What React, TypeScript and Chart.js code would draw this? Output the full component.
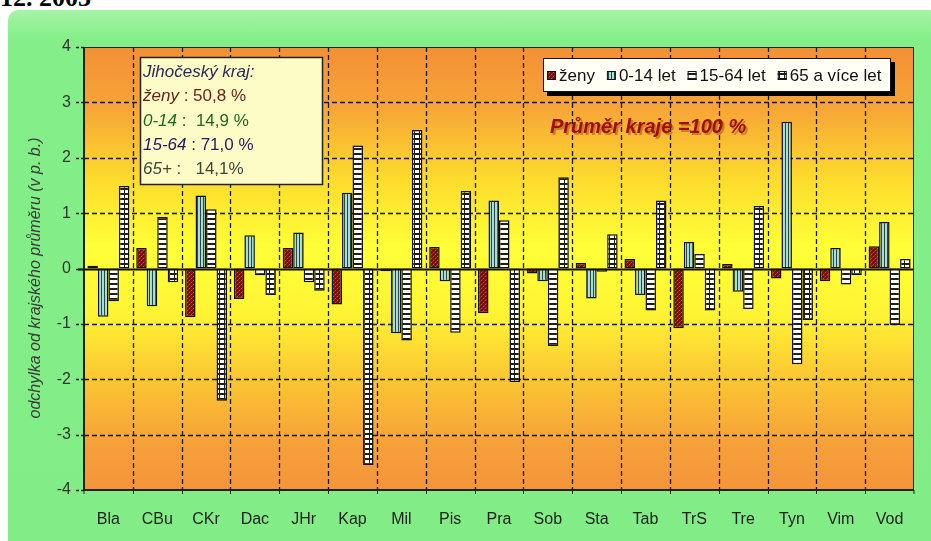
import React, { useEffect, useRef } from "react";
import { Chart, registerables } from "chart.js";
Chart.register(...registerables);

const categories = ["Bla", "CBu", "CKr", "Dac", "JHr", "Kap", "Mil", "Pis", "Pra", "Sob", "Sta", "Tab", "TrS", "Tre", "Tyn", "Vim", "Vod"];
const seriesNames = ["ženy", "0-14 let", "15-64 let", "65 a více let"];
const zeny = [0.05, 0.37, -0.88, -0.55, 0.37, -0.65, -0.05, 0.39, -0.81, -0.09, 0.1, 0.17, -1.08, 0.08, -0.18, -0.23, 0.4];
const age0to14 = [-0.87, -0.68, 1.32, 0.6, 0.65, 1.37, -1.17, -0.23, 1.23, -0.23, -0.54, -0.48, 0.48, -0.42, 2.65, 0.37, 0.84];
const age15to64 = [-0.59, 0.93, 1.07, -0.12, -0.25, 2.22, -1.3, -1.16, 0.87, -1.4, -0.06, -0.76, 0.26, -0.73, -1.73, -0.29, -1.02];
const age65plus = [1.49, -0.25, -2.39, -0.48, -0.4, -3.55, 2.5, 1.4, -2.05, 1.65, 0.62, 1.23, -0.76, 1.13, -0.93, -0.12, 0.17];
const yMin = -4;
const yMax = 4;
const yStep = 1;
const yTitle = "odchylka od krajského průměru (v p. b.)";
const infoTitle = "Jihočeský kraj:";
const infoLabels = ["ženy", "0-14", "15-64", "65+"];
const infoSeps = [" : ", " :  ", " : ", " :   "];
const infoValues = ["50,8 %", "14,9 %", "71,0 %", "14,1%"];
const noteText = "Průměr kraje =100 %";
const headingText = "12. 2003";

const FONT = "Arial, 'Liberation Sans', sans-serif";

function mk(w: number, h: number, draw: (c: CanvasRenderingContext2D) => void) {
  const c = document.createElement("canvas");
  c.width = w;
  c.height = h;
  const x = c.getContext("2d")!;
  draw(x);
  return x.createPattern(c, "repeat")!;
}

function makePatterns() {
  const pZeny = mk(4, 4, (c) => {
    c.fillStyle = "#7a1010";
    c.fillRect(0, 0, 4, 4);
    c.fillStyle = "#c85050";
    c.fillRect(1, 0, 1, 1);
    c.fillRect(3, 2, 1, 1);
    c.fillStyle = "#9e2424";
    c.fillRect(0, 1, 1, 1);
    c.fillRect(2, 3, 1, 1);
  });
  const pVert = mk(3, 1, (c) => {
    c.fillStyle = "#a8dcd6";
    c.fillRect(0, 0, 3, 1);
    c.fillStyle = "#2a4646";
    c.fillRect(2, 0, 1, 1);
  });
  const pHoriz = mk(1, 5, (c) => {
    c.fillStyle = "#ffffff";
    c.fillRect(0, 0, 1, 5);
    c.fillStyle = "#1e1e1e";
    c.fillRect(0, 3, 1, 2);
  });
  const pGrid = mk(5, 5, (c) => {
    c.fillStyle = "#ffffff";
    c.fillRect(0, 0, 5, 5);
    c.fillStyle = "#1e1e1e";
    c.fillRect(4, 0, 1, 5);
    c.fillRect(0, 3, 5, 2);
  });
  return [pZeny, pVert, pHoriz, pGrid];
}

const decor = {
  id: "decor",
  beforeDatasetsDraw(chart: any) {
    const { ctx, chartArea: a, scales } = chart;
    const x = scales.x;
    const y = scales.y;
    ctx.save();
    const g = ctx.createLinearGradient(0, a.top, 0, a.bottom);
    g.addColorStop(0, "#f38f36");
    g.addColorStop(0.14, "#f7a636");
    g.addColorStop(0.3, "#fddc2c");
    g.addColorStop(0.45, "#ffff38");
    g.addColorStop(0.6, "#fff434");
    g.addColorStop(0.75, "#fbc632");
    g.addColorStop(0.9, "#f6a03a");
    g.addColorStop(1, "#f4943a");
    ctx.fillStyle = g;
    ctx.fillRect(a.left, a.top, a.right - a.left, a.bottom - a.top);

    ctx.strokeStyle = "#1a1a1a";
    ctx.lineWidth = 1.3;
    ctx.setLineDash([5, 3]);
    for (let v = yMin + yStep; v < yMax; v += yStep) {
      if (v === 0) continue;
      const py = Math.round(y.getPixelForValue(v)) + 0.5;
      ctx.beginPath();
      ctx.moveTo(a.left, py);
      ctx.lineTo(a.right, py);
      ctx.stroke();
    }
    for (let i = 0; i < categories.length - 1; i++) {
      const px = Math.round((x.getPixelForValue(i) + x.getPixelForValue(i + 1)) / 2) + 0.5;
      ctx.beginPath();
      ctx.moveTo(px, a.top);
      ctx.lineTo(px, a.bottom);
      ctx.stroke();
    }
    ctx.setLineDash([]);
    ctx.restore();
  },
  afterDatasetsDraw(chart: any) {
    const { ctx, chartArea: a, scales, data } = chart;
    const x = scales.x;
    const y = scales.y;
    ctx.save();
    // zero line
    const y0 = Math.round(y.getPixelForValue(0)) + 0.5;
    ctx.strokeStyle = "#111";
    ctx.lineWidth = 2;
    ctx.beginPath();
    ctx.moveTo(a.left - 6, y0);
    ctx.lineTo(a.right, y0);
    ctx.stroke();
    // frame
    ctx.lineWidth = 1;
    ctx.strokeStyle = "#222";
    ctx.strokeRect(a.left + 0.5, a.top + 0.5, a.right - a.left - 1, a.bottom - a.top - 1);
    ctx.lineWidth = 2;
    ctx.beginPath();
    ctx.moveTo(a.left, a.top);
    ctx.lineTo(a.left, a.bottom);
    ctx.lineTo(a.right, a.bottom);
    ctx.stroke();
    // tick marks
    ctx.lineWidth = 1.3;
    ctx.setLineDash([3, 2]);
    for (let v = yMin; v <= yMax; v += yStep) {
      const py = Math.round(y.getPixelForValue(v)) + 0.5;
      ctx.beginPath();
      ctx.moveTo(a.left - 8, py);
      ctx.lineTo(a.left, py);
      ctx.stroke();
    }
    ctx.setLineDash([]);
    ctx.lineWidth = 1;
    for (let i = 0; i <= categories.length; i++) {
      let px;
      if (i === 0) px = a.left;
      else if (i === categories.length) px = a.right;
      else px = Math.round((x.getPixelForValue(i - 1) + x.getPixelForValue(i)) / 2) + 0.5;
      ctx.beginPath();
      ctx.moveTo(px, a.bottom);
      ctx.lineTo(px, a.bottom + 4);
      ctx.stroke();
    }
    // y title
    ctx.save();
    ctx.translate(36, 278);
    ctx.rotate(-Math.PI / 2);
    ctx.font = `italic 16px ${FONT}`;
    ctx.fillStyle = "#3c3c3c";
    ctx.textAlign = "center";
    ctx.textBaseline = "middle";
    ctx.fillText(yTitle, 0, 0);
    ctx.restore();

    // info box
    ctx.fillStyle = "#fdfcc6";
    ctx.fillRect(140, 57, 182, 127);
    ctx.strokeStyle = "#222";
    ctx.lineWidth = 1.5;
    ctx.strokeRect(140.5, 57.5, 182, 127);
    ctx.textBaseline = "alphabetic";
    ctx.textAlign = "left";
    ctx.font = `italic 17px ${FONT}`;
    ctx.fillStyle = "#2a2a5c";
    ctx.fillText(infoTitle, 143, 77);
    const infoColors = ["#6a1e1e", "#1c6a1c", "#1c1c6a", "#3c463c"];
    const baselines = [101, 126, 150, 174];
    infoLabels.forEach((lab, i) => {
      ctx.fillStyle = infoColors[i];
      ctx.font = `italic 17px ${FONT}`;
      ctx.fillText(lab, 143, baselines[i]);
      const w = ctx.measureText(lab).width;
      ctx.font = `17px ${FONT}`;
      ctx.fillText(infoSeps[i] + infoValues[i], 143 + w, baselines[i]);
    });

    // legend
    ctx.fillStyle = "#000";
    ctx.fillRect(547, 62, 348, 34);
    ctx.fillStyle = "#fffff6";
    ctx.fillRect(543, 58, 348, 34);
    ctx.strokeStyle = "#111";
    ctx.lineWidth = 1;
    ctx.strokeRect(543.5, 58.5, 347, 33);
    ctx.font = `17px ${FONT}`;
    ctx.textBaseline = "middle";
    let lx = 547;
    data.datasets.forEach((ds: any) => {
      ctx.fillStyle = ds.backgroundColor;
      ctx.fillRect(lx, 71, 9, 9);
      ctx.strokeStyle = "#111";
      ctx.strokeRect(lx + 0.5, 71.5, 8, 8);
      lx += 12;
      ctx.fillStyle = "#111";
      ctx.fillText(ds.label, lx, 76);
      lx += ctx.measureText(ds.label).width + 12;
    });

    // note
    ctx.font = `bold italic 20px ${FONT}`;
    ctx.textBaseline = "alphabetic";
    ctx.fillStyle = "rgba(120,20,0,0.35)";
    ctx.fillText(noteText, 552, 135);
    ctx.fillStyle = "#a00f0f";
    ctx.fillText(noteText, 550, 133);
    ctx.restore();
  },
};

export default function App() {
  const ref = useRef<HTMLCanvasElement>(null);
  useEffect(() => {
    const canvas = ref.current!;
    const patterns = makePatterns();
    const seriesValues = [zeny, age0to14, age15to64, age65plus];
    const chart = new Chart(canvas, {
      type: "bar",
      data: {
        labels: categories,
        datasets: seriesNames.map((name, i) => ({
          label: name,
          data: seriesValues[i],
          backgroundColor: patterns[i] as any,
          borderColor: "#111",
          borderWidth: 1.5,
          borderSkipped: false,
          categoryPercentage: 0.86,
          barPercentage: 1,
        })),
      },
      options: {
        responsive: false,
        animation: false,
        layout: { padding: { top: 47, right: 17, bottom: 0, left: 0 } },
        plugins: { legend: { display: false }, tooltip: { enabled: false } },
        scales: {
          x: {
            grid: { display: false },
            border: { display: false },
            ticks: { color: "#222", font: { family: FONT, size: 16 }, padding: 12, autoSkip: false, maxRotation: 0 },
            afterFit: (s: any) => {
              s.height = 51;
            },
          },
          y: {
            min: yMin,
            max: yMax,
            grid: { display: false },
            border: { display: false },
            ticks: { stepSize: yStep, color: "#333", font: { family: FONT, size: 16 }, padding: 5 },
            afterFit: (s: any) => {
              s.width = 84;
            },
          },
        },
      },
      plugins: [decor],
    });
    return () => chart.destroy();
  }, []);

  return (
    <div style={{ position: "absolute", left: 0, top: 0, width: 931, height: 541, overflow: "hidden", background: "#ffffff" }}>
      <div
        style={{
          position: "absolute",
          left: 0,
          top: -17,
          font: "bold 26px 'Liberation Serif', 'Times New Roman', serif",
          color: "#000",
          whiteSpace: "nowrap",
        }}
      >
        {headingText}
      </div>
      <div
        style={{
          position: "absolute",
          left: 8,
          top: 10,
          width: 940,
          height: 545,
          borderRadius: 10,
          background: "linear-gradient(180deg, #a6f4a6 0px, #84ee88 30px, #82ec86 100%)",
        }}
      />
      <canvas ref={ref} width={931} height={541} style={{ position: "absolute", left: 0, top: 0 }} />
    </div>
  );
}
